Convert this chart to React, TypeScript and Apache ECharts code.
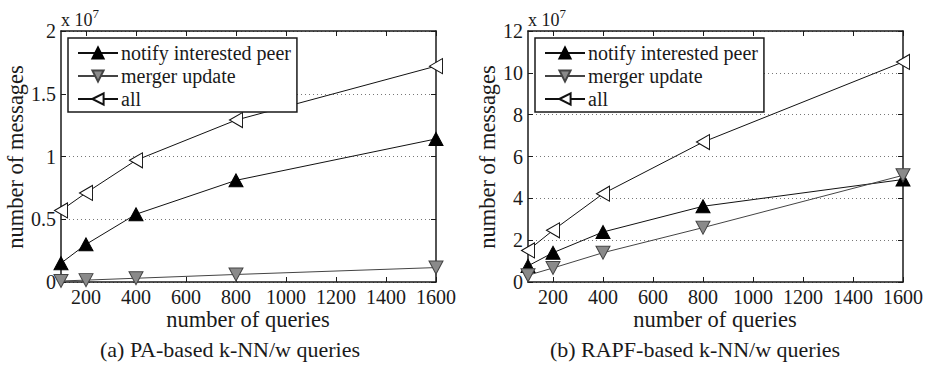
import React, { useEffect, useRef } from "react";
import * as echarts from "echarts";

const xValues = [100, 200, 400, 800, 1600];
const xTickValues = [200, 400, 600, 800, 1000, 1200, 1400, 1600];

// values in units of 10^7 messages
const notifyA = [0.15, 0.3, 0.54, 0.81, 1.14];
const mergerA = [0.008, 0.015, 0.03, 0.06, 0.115];
const allA = [0.57, 0.71, 0.97, 1.29, 1.72];

const notifyB = [0.77, 1.4, 2.39, 3.62, 4.9];
const mergerB = [0.32, 0.67, 1.4, 2.6, 5.1];
const allB = [1.51, 2.47, 4.22, 6.69, 10.52];

const seriesNames = ["notify interested peer", "merger update", "all"];
const yMaxA = 2;
const yIntervalA = 0.5;
const yMaxB = 12;
const yIntervalB = 2;

const captions = ["(a) PA-based k-NN/w queries", "(b) RAPF-based k-NN/w queries"];
const xTitle = "number of queries";
const yTitle = "number of messages";

const FONT = "'Liberation Serif', 'Times New Roman', serif";
const INK = "#1a1a1a";

const pairs = (ys: number[]) => xValues.map((x, i) => [x, ys[i]]);

const leftTri = "path://M0,5L10,0L10,10Z";
const downTri = "path://M0,0L10,0L5,10Z";

function makeSeries(gi: number, notify: number[], merger: number[], all: number[]) {
  return [
    {
      name: seriesNames[0],
      type: "line",
      xAxisIndex: gi * 2,
      yAxisIndex: gi * 2,
      data: pairs(notify),
      symbol: "triangle",
      symbolSize: [14, 13],
      itemStyle: { color: "#000", borderColor: "#000", borderWidth: 1 },
      lineStyle: { color: "#111", width: 1 },
      clip: false,
      z: 3,
    },
    {
      name: seriesNames[1],
      type: "line",
      xAxisIndex: gi * 2,
      yAxisIndex: gi * 2,
      data: pairs(merger),
      symbol: downTri,
      symbolSize: [14, 13],
      itemStyle: { color: "#8a8a8a", borderColor: "#444", borderWidth: 1 },
      lineStyle: { color: "#444", width: 1 },
      clip: false,
      z: 3,
    },
    {
      name: seriesNames[2],
      type: "line",
      xAxisIndex: gi * 2,
      yAxisIndex: gi * 2,
      data: pairs(all),
      symbol: leftTri,
      symbolSize: [13, 15],
      itemStyle: { color: "#fff", borderColor: "#111", borderWidth: 1 },
      lineStyle: { color: "#111", width: 1 },
      clip: false,
      z: 3,
    },
  ];
}

function xAxes(gi: number) {
  const base = {
    gridIndex: gi,
    type: "value",
    min: 100,
    max: 1600,
    axisLine: { show: true, onZero: false, lineStyle: { color: INK, width: 1.5 } },
    axisTick: { show: true, inside: true, length: 5, customValues: xTickValues, lineStyle: { color: INK } },
    splitLine: { show: false },
  };
  return [
    {
      ...base,
      position: "bottom",
      axisLabel: {
        customValues: xTickValues,
        formatter: (v: number) => String(v),
        fontFamily: FONT,
        fontSize: 20,
        lineHeight: 16,
        color: INK,
        margin: 7,
      },
    },
    { ...base, position: "top", axisLabel: { show: false } },
  ];
}

function yAxes(gi: number, max: number, interval: number) {
  const base = {
    gridIndex: gi,
    type: "value",
    min: 0,
    max,
    interval,
    axisLine: { show: true, onZero: false, lineStyle: { color: INK, width: 1.5 } },
    axisTick: { show: true, inside: true, length: 5, lineStyle: { color: INK } },
  };
  return [
    {
      ...base,
      position: "left",
      axisLabel: { formatter: (v: number) => String(v), fontFamily: FONT, fontSize: 20, color: INK, margin: 5 },
      splitLine: { show: true, lineStyle: { type: [1, 3], color: "#777", width: 1 } },
    },
    { ...base, position: "right", axisLabel: { show: false }, splitLine: { show: false } },
  ];
}

function legend(left: number) {
  return {
    left,
    top: 38,
    orient: "vertical",
    data: seriesNames,
    itemWidth: 40,
    itemHeight: 14,
    itemGap: 3,
    padding: [5, 6, 3, 9],
    backgroundColor: "#fff",
    borderColor: INK,
    borderWidth: 1.5,
    borderRadius: 0,
    selectedMode: false,
    textStyle: { fontFamily: FONT, fontSize: 20, color: INK, lineHeight: 20, padding: [0, 0, 0, -2] },
    z: 10,
  };
}

function textG(text: string, x: number, y: number, size: number, rotation = 0) {
  return {
    type: "text",
    x,
    y,
    rotation,
    style: {
      text,
      fontFamily: FONT,
      fontSize: size,
      lineHeight: 20,
      fill: INK,
      textAlign: "center",
      textVerticalAlign: "middle",
    },
  };
}

function expG(x: number) {
  return {
    type: "text",
    x,
    y: 20,
    style: {
      text: "x 10{sup|7}",
      fontFamily: FONT,
      fontSize: 18,
      fill: INK,
      textAlign: "left",
      textVerticalAlign: "middle",
      rich: {
        sup: { fontFamily: FONT, fontSize: 13, fill: INK, verticalAlign: "bottom", padding: [0, 0, 13, 0] },
      },
    },
  };
}

export default function App() {
  const ref = useRef<HTMLDivElement>(null);
  useEffect(() => {
    document.body.style.margin = "0";
    const chart = echarts.init(ref.current!, undefined, { renderer: "svg" });
    chart.setOption({
      animation: false,
      backgroundColor: "#fff",
      grid: [
        { left: 61, top: 31, width: 375, height: 251 },
        { left: 528, top: 31, width: 375, height: 251 },
      ],
      xAxis: [...xAxes(0), ...xAxes(1)],
      yAxis: [...yAxes(0, yMaxA, yIntervalA), ...yAxes(1, yMaxB, yIntervalB)],
      legend: [legend(68), legend(535)],
      series: [...makeSeries(0, notifyA, mergerA, allA), ...makeSeries(1, notifyB, mergerB, allB)],
      graphic: [
        textG(yTitle, 15, 157, 22.5, Math.PI / 2),
        textG(yTitle, 487, 157, 22.5, Math.PI / 2),
        textG(xTitle, 248, 319, 22.5),
        textG(xTitle, 715, 319, 22.5),
        textG(captions[0], 230, 349, 22),
        textG(captions[1], 695, 349, 22),
        expG(61),
        expG(528),
      ],
    });
    return () => chart.dispose();
  }, []);
  return <div ref={ref} style={{ width: 927, height: 365 }} />;
}
